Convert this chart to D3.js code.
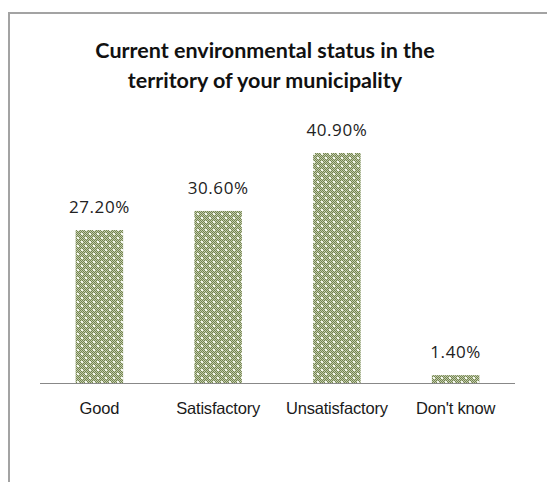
<!DOCTYPE html>
<html>
<head>
<meta charset="utf-8">
<script src="https://cdn.jsdelivr.net/npm/d3@7"></script>
<style>
  html, body { margin: 0; padding: 0; background: #fff; }
  svg { display: block; }
</style>
</head>
<body>
<script>
// Survey answers and their shares (percent)
const categories = ["Good", "Satisfactory", "Unsatisfactory", "Don't know"];
const values = [27.2, 30.6, 40.9, 1.4];
const valueLabels = ["27.20%", "30.60%", "40.90%", "1.40%"];
const titleLines = ["Current environmental status in the", "territory of your municipality"];

const W = 547, H = 482;
const svg = d3.select("body").append("svg").attr("width", W).attr("height", H);

// Checkered fill with light dots
const defs = svg.append("defs");
const pat = defs.append("pattern")
  .attr("id", "checker")
  .attr("patternUnits", "userSpaceOnUse")
  .attr("width", 8).attr("height", 8);
pat.append("rect").attr("width", 8).attr("height", 8).attr("fill", "#c3cdab");
for (let y = 0; y < 8; y++) {
  for (let x = 0; x < 8; x++) {
    if ((x + y) % 2 === 0) {
      pat.append("rect").attr("x", x).attr("y", y).attr("width", 1).attr("height", 1).attr("fill", "#728250");
    }
  }
}
[[1, 1], [5, 5]].forEach(([x, y]) => {
  pat.append("rect").attr("x", x).attr("y", y).attr("width", 2).attr("height", 2).attr("fill", "#f4f7ee");
});

// Chart frame (left and top edges)
svg.append("path")
  .attr("d", "M9,482 L9,13 L547,13")
  .attr("fill", "none")
  .attr("stroke", "#a3a3a3")
  .attr("stroke-width", 2);

// Title
const title = svg.append("text")
  .attr("text-anchor", "middle")
  .attr("font-family", "Lato, 'Open Sans', sans-serif")
  .attr("font-weight", "bold")
  .attr("font-size", 21.5)
  .attr("fill", "#111");
titleLines.forEach((line, i) => {
  title.append("tspan").attr("x", 265).attr("y", 58 + i * 30).text(line);
});

// Scales
const x = d3.scaleBand().domain(categories).range([40, 515]).paddingInner(0.6).paddingOuter(0.3);
const y = d3.scaleLinear().domain([0, 40.9]).range([383, 153]);

const data = categories.map((c, i) => ({ c, v: values[i], label: valueLabels[i] }));

// Bars
svg.append("g").selectAll("rect")
  .data(data).join("rect")
  .attr("x", d => x(d.c))
  .attr("y", d => y(d.v))
  .attr("width", x.bandwidth())
  .attr("height", d => y(0) - y(d.v))
  .attr("fill", "url(#checker)");

// Value labels
svg.append("g").selectAll("text")
  .data(data).join("text")
  .attr("x", d => x(d.c) + x.bandwidth() / 2)
  .attr("y", d => y(d.v) - 17)
  .attr("text-anchor", "middle")
  .attr("font-family", "'Open Sans', sans-serif")
  .attr("font-size", 17)
  .attr("letter-spacing", 0.6)
  .attr("fill", "#222")
  .text(d => d.label);

// Category axis
const axis = svg.append("g")
  .attr("transform", `translate(0,${y(0)})`)
  .call(d3.axisBottom(x).tickSize(0).tickPadding(0).tickSizeOuter(0));
axis.select(".domain").attr("stroke", "#888").attr("stroke-width", 1.2)
  .attr("d", "M40,0.5H515");
axis.selectAll(".tick text")
  .attr("dy", 0)
  .attr("y", 31)
  .attr("font-family", "'Liberation Sans', Arial, sans-serif")
  .attr("font-size", 16.5)
  .attr("letter-spacing", -0.2)
  .attr("fill", "#1a1a1a");
</script>
</body>
</html>
